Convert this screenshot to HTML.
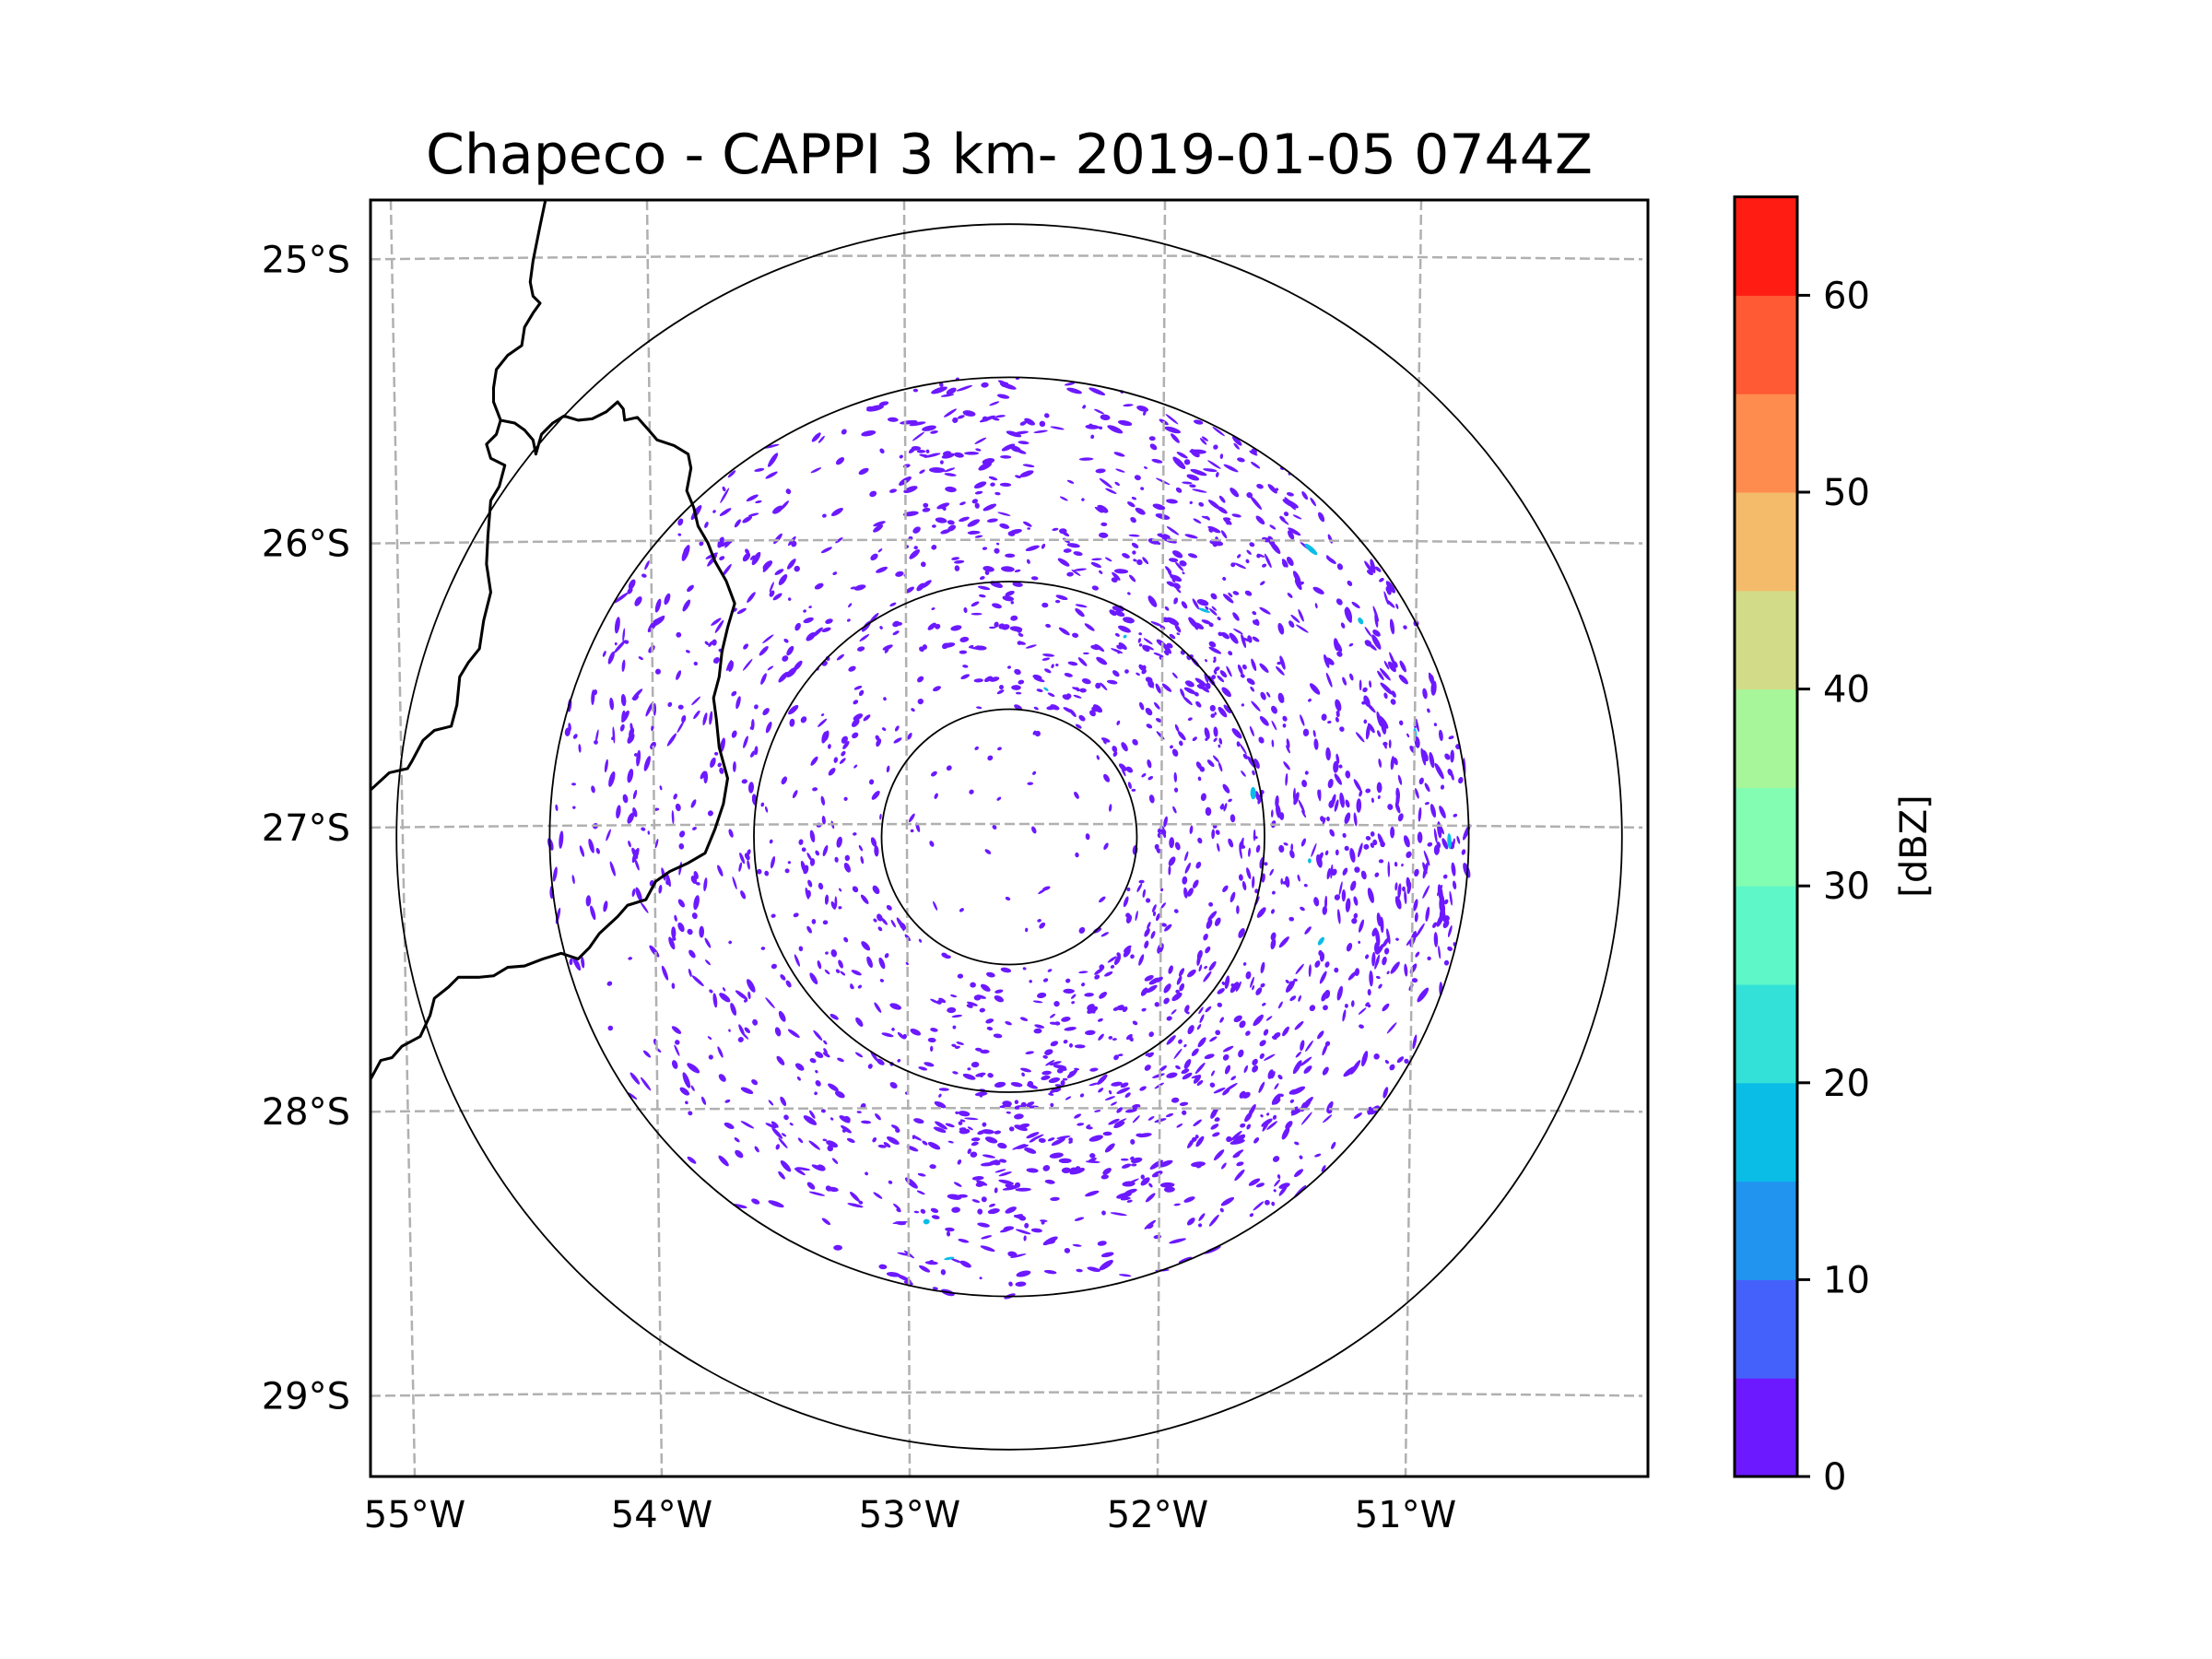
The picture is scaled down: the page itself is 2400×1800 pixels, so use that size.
<!DOCTYPE html>
<html><head><meta charset="utf-8"><style>
html,body{margin:0;padding:0;background:#fff}
svg{display:block}
text{font-family:"DejaVu Sans","Liberation Sans",sans-serif;fill:#000}
</style></head><body>
<svg id="chart" width="2400" height="1800" viewBox="0 0 2400 1800" xmlns="http://www.w3.org/2000/svg">
<rect width="2400" height="1800" fill="#fff"/>
<text x="1095" y="188" font-size="60" text-anchor="middle">Chapeco - CAPPI 3 km- 2019-01-05 0744Z</text>
<defs><clipPath id="ax"><rect x="402" y="217" width="1386" height="1385"/></clipPath></defs>
<g id="plot" clip-path="url(#ax)"></g>
<rect x="402" y="217" width="1386" height="1385" fill="none" stroke="#000" stroke-width="3"/>
<g id="ticks"></g>
<g id="cbar"></g>
<text transform="translate(2090,918) rotate(-90)" font-size="40" text-anchor="middle">[dBZ]</text>
</svg>
<script>
const NS='http://www.w3.org/2000/svg';
const latLabels=['25°S','26°S','27°S','28°S','29°S'];
const latValues=[-25,-26,-27,-28,-29];
const lonLabels=['55°W','54°W','53°W','52°W','51°W'];
const lonValues=[-55,-54,-53,-52,-51];
const ringRadiiKm=[50,100,180,240];
const cbarLevels=[0,5,10,15,20,25,30,35,40,45,50,55,60,65];
const cbarColors=['#6c19ff','#4561fb','#2094ef','#0abde6','#34e1d8','#5ef7c8','#82fdb1','#a8f69a','#d2dc88','#f4bb6a','#ff8c4f','#ff5a33','#ff1c12'];
const cbarTicks=[0,10,20,30,40,50,60];

const cx=1095, cy=908, pxPerKm=2.77, S=1.53;
function yLat(lat,x){const t=(x-cx)/700;return 898+(-27-lat)*308.3 - 4*(1-t*t);}
function xLon(lon,y){const top=[424,702,981,1264,1542],bot=[450,718,987,1256,1525];
  const i=lonValues.indexOf(lon);const f=(y-217)/1385;return top[i]+(bot[i]-top[i])*f;}
function mk(tag,attrs,parent){const e=document.createElementNS(NS,tag);for(const k in attrs)e.setAttribute(k,attrs[k]);parent.appendChild(e);return e;}
const plot=document.getElementById('plot'), ticks=document.getElementById('ticks'), cbar=document.getElementById('cbar');

// echo texture
let s=12345;function rnd(){s=(s*1103515245+12345)%2147483648;return s/2147483648;}
const eg=mk('g',{},plot);


for(let i=0;i<3400;i++){
  const a=rnd()*Math.PI*2;let r=Math.sqrt(rnd())*500;
  if(r<140&&rnd()<0.8)continue;
  const east=Math.cos(a);if(east<-0.3&&rnd()<0.4)continue;
  if(r>440&&Math.sin(a)>0.3&&rnd()<0.5)continue;
  const x=cx+r*Math.cos(a),y=cy+r*Math.sin(a);
  const w=1.5+rnd()*(r/90+3),h=1.2+rnd()*2;
  mk('ellipse',{cx:x.toFixed(1),cy:y.toFixed(1),rx:w.toFixed(1),ry:h.toFixed(1),fill:rnd()<0.006?'#0abde6':'#6c19ff',transform:`rotate(${(a*180/Math.PI+90+(rnd()-0.5)*50).toFixed(0)} ${x.toFixed(1)} ${y.toFixed(1)})`},eg);
}
// gridlines
latValues.forEach((v,i)=>{let d='';for(let x=402;x<=1788;x+=20){d+=(x==402?'M':'L')+x+' '+yLat(v,x).toFixed(1);}
  const p=mk('path',{d,fill:'none',stroke:'#b0b0b0','stroke-width':2.5,'stroke-dasharray':'11 5'},plot);
  
  
  const t=mk('text',{x:380,y:yLat(v,402)+14,'font-size':40,'text-anchor':'end'},ticks);t.textContent=latLabels[i];
  
  
});
lonValues.forEach((v,i)=>{const p=mk('line',{x1:xLon(v,217),y1:217,x2:xLon(v,1602),y2:1602,stroke:'#b0b0b0','stroke-width':2.5,'stroke-dasharray':'11 5'},plot);
  
  
  const t=mk('text',{x:xLon(v,1602),y:1657,'font-size':40,'text-anchor':'middle'},ticks);t.textContent=lonLabels[i];
  
  
});
// range rings
ringRadiiKm.forEach(r=>{const c=mk('circle',{cx,cy,r:r*pxPerKm,fill:'none',stroke:'#000','stroke-width':1.8},plot);
  
  
});
// borders
const bg=mk('g',{transform:'scale('+S+')',fill:'none',stroke:'#000','stroke-width':2,'stroke-linejoin':'round'},plot);


mk('path',{d:'M387,141 L383,160 L378,185 L376,200 L378,210 L383,215 L378,222 L372,232 L370,245 L360,252 L352,262 L350,275 L350,285 L355,298 L352,308 L345,315 L348,325 L358,330 L354,345 L348,355 L346,380 L345,400 L348,420 L343,440 L340,460 L332,470 L326,480 L324,500 L320,515 L308,518 L300,525 L292,540 L289,545 L276,548 L263,560'},bg);
mk('path',{d:'M355,298 L365,300 L372,305 L378,312 L380,322 L384,308 L392,300 L400,295 L410,298 L420,297 L430,292 L438,285 L442,290 L443,298 L452,296 L460,305 L466,312 L478,316 L488,322 L490,332 L487,348 L492,360 L495,373 L502,385 L507,398 L515,412 L521,428 L516,445 L512,462 L510,480 L506,495 L508,510 L510,530 L516,552 L513,570 L507,588 L500,605 L488,612 L475,618 L465,625 L458,638 L445,642 L438,650 L425,662 L418,672 L410,680 L398,676 L385,680 L372,685 L360,686 L350,692 L340,693 L325,693 L318,700 L308,708 L305,720 L298,735 L285,742 L278,750 L270,752 L263,765'},bg);
// colorbar
const cbTop=213.6,cbBot=1602,cbX=1882,cbW=68,span=cbarLevels[cbarLevels.length-1]-cbarLevels[0];
function yC(v){return cbBot-(v-cbarLevels[0])/span*(cbBot-cbTop);}
cbarColors.forEach((c,i)=>{const r=mk('rect',{x:cbX,y:yC(cbarLevels[i+1]),width:cbW,height:yC(cbarLevels[i])-yC(cbarLevels[i+1])+0.5,fill:c},cbar);
  
  
});
mk('rect',{x:cbX,y:cbTop,width:cbW,height:cbBot-cbTop,fill:'none',stroke:'#000','stroke-width':3},cbar);
cbarTicks.forEach(v=>{mk('line',{x1:cbX+cbW,x2:cbX+cbW+14,y1:yC(v),y2:yC(v),stroke:'#000','stroke-width':3},cbar);
  const t=mk('text',{x:cbX+cbW+28,y:yC(v)+14,'font-size':40},cbar);t.textContent=v;
  
  
});
</script>
</body></html>
